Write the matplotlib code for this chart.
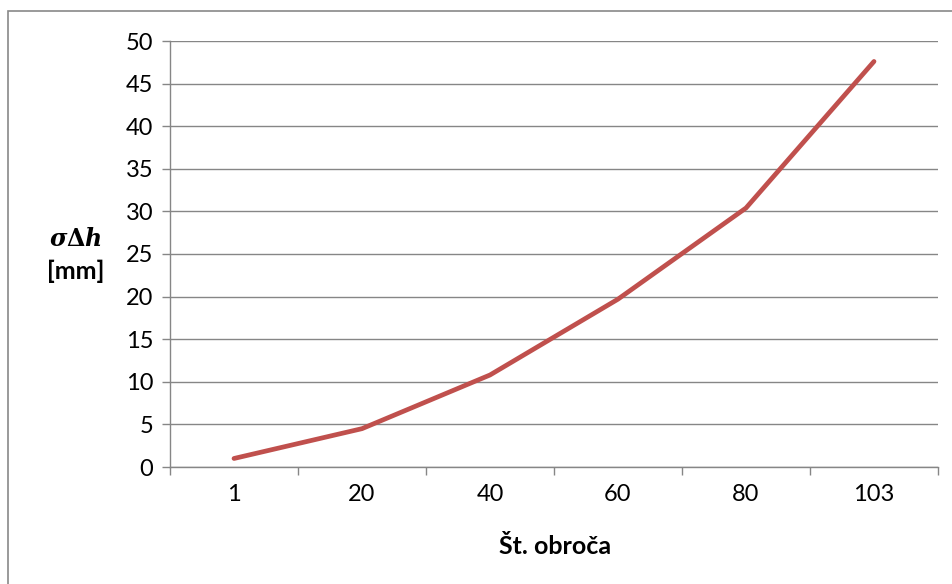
import matplotlib.pyplot as plt
from matplotlib.patches import Rectangle

categories = ['1', '20', '40', '60', '80', '103']
sigma_dh = [1.0, 4.5, 10.8, 19.7, 30.4, 47.6]
y_ticks = [0, 5, 10, 15, 20, 25, 30, 35, 40, 45, 50]

plt.rcParams['font.family'] = ['Lato', 'DejaVu Sans']
plt.rcParams['mathtext.fontset'] = 'dejavuserif'
grid_col = '#868686'

fig = plt.figure(figsize=(9.53, 5.84), dpi=100)
# outer chart border (cropped at right/bottom)
fig.patches.append(Rectangle((8 / 953, -0.1), 1.2, (584 - 11) / 584 + 0.1,
                             transform=fig.transFigure, fill=False,
                             edgecolor='#898989', linewidth=1.2))

ax = fig.add_axes([170 / 953, (584 - 467) / 584, 768 / 953, 426 / 584])
x = list(range(len(categories)))
ax.plot(x, sigma_dh, color='#C0504D', linewidth=3.4, solid_capstyle='round',
        solid_joinstyle='round', zorder=3)

ax.set_xlim(-0.5, len(categories) - 0.5)
ax.set_ylim(0, 50)
ax.set_yticks(y_ticks)
ax.set_xticks(x)
ax.set_xticklabels(categories)
ax.set_xticks([i - 0.5 for i in range(len(categories) + 1)], minor=True)
ax.tick_params(axis='x', which='major', length=0, pad=12, labelsize=17)
ax.tick_params(axis='x', which='minor', length=6, width=1, color=grid_col)
ax.tick_params(axis='y', length=6, width=1, color=grid_col, pad=6, labelsize=17)
ax.yaxis.grid(True, color=grid_col, linewidth=1)
ax.set_axisbelow(True)
for s in ['top', 'right']:
    ax.spines[s].set_visible(False)
for s in ['left', 'bottom']:
    ax.spines[s].set_color(grid_col)
    ax.spines[s].set_linewidth(1)

fig.text(75 / 953, 1 - 239 / 584, r'$\boldsymbol{\sigma\Delta h}$', ha='center', va='center',
         fontsize=17)
fig.text(76 / 953, 1 - 271 / 584, '[mm]', ha='center', va='center',
         fontsize=18, fontweight='bold')
fig.text(555 / 953, 1 - 546 / 584, 'Št. obroča', ha='center', va='center',
         fontsize=18, fontweight='bold')

fig.savefig('out.png', dpi=100)
